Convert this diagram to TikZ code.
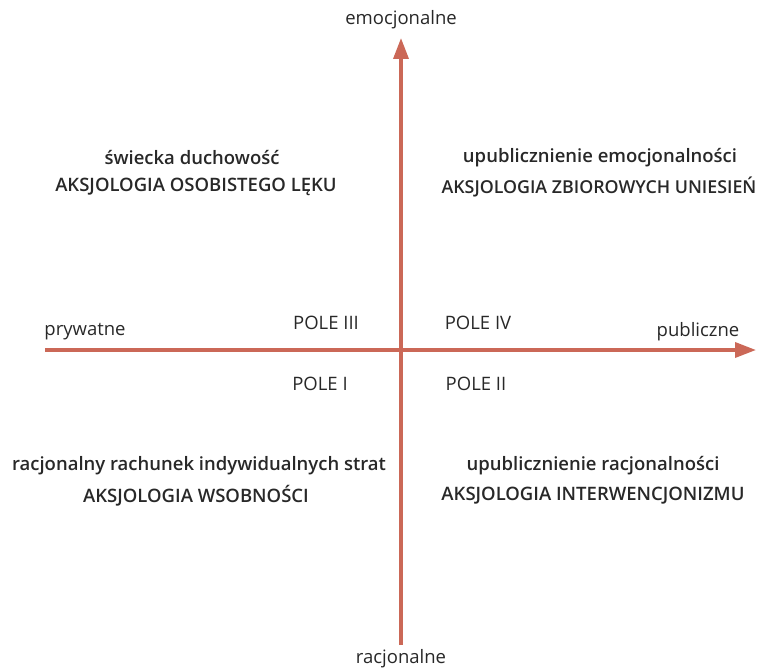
\documentclass[tikz,border=0pt]{standalone}
\usepackage{fontspec}
\setmainfont{Open Sans}[BoldFont={Open Sans Semibold}]
\usetikzlibrary{arrows.meta}
\definecolor{axisred}{RGB}{203,104,87}
\definecolor{txtgray}{RGB}{40,40,40}
\tikzset{
  axis/.style = {draw=axisred, line width=3.5pt,
    -{Triangle[length=21pt,width=15pt]}},
  lbl/.style = {text=txtgray, font=\fontsize{18.5}{22}\selectfont, inner sep=0pt},
  head/.style = {lbl, font=\fontsize{18.5}{22}\selectfont\bfseries}
}
\begin{document}
\begin{tikzpicture}[x=1pt, y=-1pt]
  \useasboundingbox (0, 0) rectangle (757, 669);
  % axes
  \coordinate (west) at (45, 350);
  \coordinate (east) at (756, 350);
  \coordinate (south) at (401, 645);
  \coordinate (north) at (401, 38);
  \draw[axis] (west) -- (east);
  \draw[axis] (south) -- (north);
  % axis labels
  \node[lbl] (emo) at (401, 20) {emocjonalne};
  \node[lbl] (rac) at (401, 659) {racjonalne};
  \node[lbl] (pry) at (85, 332) {prywatne};
  \node[lbl] (pub) at (698, 332) {publiczne};
  % fields
  \node[lbl] (p3) at (326, 323) {POLE III};
  \node[lbl] (p4) at (478, 323) {POLE IV};
  \node[lbl] (p1) at (320, 384) {POLE I};
  \node[lbl] (p2) at (476, 384) {POLE II};
  % quadrant descriptions
  \node[head] (tl1) at (192, 158) {świecka duchowość};
  \node[head] (tl2) at (196, 187) {AKSJOLOGIA OSOBISTEGO LĘKU};
  \node[head] (tr1) at (600, 158) {upublicznienie emocjonalności};
  \node[head, font=\fontsize{17.8}{22}\selectfont\bfseries] (tr2) at (599, 187)
    {AKSJOLOGIA ZBIOROWYCH UNIESIEŃ};
  \node[head] (bl1) at (199, 466) {racjonalny rachunek indywidualnych strat};
  \node[head] (bl2) at (196, 496) {AKSJOLOGIA WSOBNOŚCI};
  \node[head] (br1) at (593, 466) {upublicznienie racjonalności};
  \node[head] (br2) at (593, 496) {AKSJOLOGIA INTERWENCJONIZMU};
\end{tikzpicture}
\end{document}
